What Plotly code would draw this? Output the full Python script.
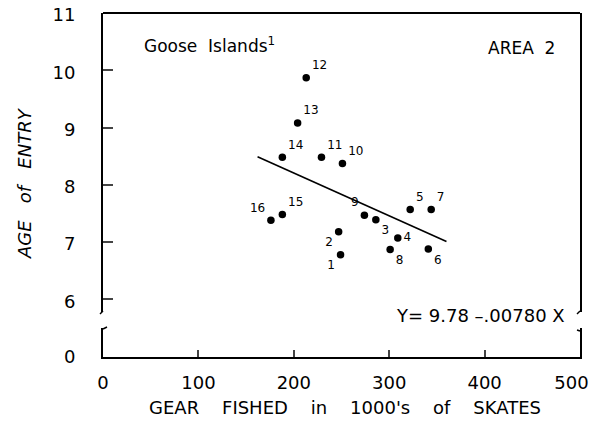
import plotly.graph_objects as go

# data
sample_id = ["1", "2", "3", "4", "5", "6", "7", "8", "9", "10", "11", "12", "13", "14", "15", "16"]
gear_fished = [249, 247, 286, 309, 322, 341, 344, 301, 274, 251, 229, 213, 204, 188, 188, 176]
age_entry = [6.78, 7.18, 7.39, 7.07, 7.57, 6.88, 7.57, 6.87, 7.47, 8.37, 8.48, 9.87, 9.08, 8.48, 7.48, 7.38]
label_pos = ["bottom left", "bottom left", "bottom right", "middle right", "top right",
             "bottom right", "top right", "bottom right", "top left", "top right",
             "top right", "top right", "top right", "top right", "top right", "top left"]

# regression line end points (Y = 9.78 - .00780 X)
fit_x = [162, 360]
fit_y = [8.49, 7.01]

x_ticks = [0, 100, 200, 300, 400, 500]
x_tick_labels = ["0", "100", "200", "300", "400", "500"]
y_ticks_upper = [6, 7, 8, 9, 10, 11]
y_ticks_lower = [0]

FONT = "DejaVu Sans"
SP = "\u00a0"

# last x label is padded so it is not clipped at the right edge of the page
x_tick_text = x_tick_labels[:-1] + [x_tick_labels[-1] + SP * 3]

fig = go.Figure()

fig.add_trace(go.Scatter(
    x=fit_x, y=fit_y, mode="lines",
    line=dict(color="black", width=1.6),
    xaxis="x", yaxis="y", hoverinfo="skip",
))

fig.add_trace(go.Scatter(
    x=gear_fished, y=age_entry, mode="markers+text",
    text=sample_id, textposition=label_pos,
    textfont=dict(family=FONT, size=12, color="black"),
    marker=dict(color="black", size=7.5),
    xaxis="x", yaxis="y",
))

# empty trace so the lower (broken) axis segment gets drawn
fig.add_trace(go.Scatter(x=[None], y=[None], mode="markers", xaxis="x", yaxis="y2",
                         hoverinfo="skip"))


def brk(x0, y0, x1, y1):
    # small hook at the ends of the broken axis lines (pixel -> paper)
    return dict(type="line", xref="paper", yref="paper",
                x0=(x0 - 103) / 477, y0=(357 - y0) / 344,
                x1=(x1 - 103) / 477, y1=(357 - y1) / 344,
                line=dict(color="black", width=1.5))


# the page body has an 8px margin; figure sized so the page does not scroll
fig.update_layout(
    width=593, height=425,
    margin=dict(l=95, r=21, t=5, b=76, autoexpand=False),
    paper_bgcolor="white", plot_bgcolor="white",
    showlegend=False,
    font=dict(family=FONT, color="black"),
    xaxis=dict(
        range=[0, 500], anchor="y2", automargin=False,
        tickvals=x_ticks, ticktext=x_tick_text,
        ticks="inside", ticklen=7, tickwidth=1.5,
        showline=True, linecolor="black", linewidth=2,
        showgrid=False, zeroline=False, ticklabeloverflow="allow",
        tickfont=dict(size=18), ticklabelstandoff=8,
    ),
    yaxis=dict(
        domain=[0.131, 1], range=[5.78, 11], anchor="x", automargin=False,
        tickvals=y_ticks_upper, ticks="inside", ticklen=10, tickwidth=1.5,
        showline=True, linecolor="black", linewidth=2, mirror=True,
        showgrid=False, zeroline=False, ticklabeloverflow="allow",
        tickfont=dict(size=18), ticklabelstandoff=22, ticklabelshift=2,
    ),
    yaxis2=dict(
        domain=[0, 0.084], range=[0, 0.506], anchor="x", automargin=False,
        tickvals=y_ticks_lower, ticks="",
        showline=True, linecolor="black", linewidth=2, mirror=True,
        showgrid=False, zeroline=False, ticklabeloverflow="allow",
        tickfont=dict(size=18), ticklabelstandoff=22,
    ),
    shapes=[
        dict(type="line", xref="paper", yref="paper", x0=0, x1=1, y0=1, y1=1,
             line=dict(color="black", width=2)),
        brk(103, 311, 100, 314),
        brk(103, 329, 107, 327),
        brk(580, 311, 577, 314),
        brk(580, 331, 577, 330),
    ],
    annotations=[
        dict(text="Goose" + SP * 2 + "Islands<sup>1</sup>", xref="paper", yref="paper",
             x=0.082, y=0.907, xanchor="left", yanchor="middle",
             showarrow=False, font=dict(size=17)),
        dict(text="AREA" + SP * 2 + "2", xref="paper", yref="paper",
             x=0.952, y=0.898, xanchor="right", yanchor="middle",
             showarrow=False, font=dict(size=17)),
        dict(text="Y= 9.78 \u2013.00780 X", xref="paper", yref="paper",
             x=0.973, y=0.122, xanchor="right", yanchor="middle",
             showarrow=False, font=dict(size=18)),
        dict(text=(SP * 4).join(["GEAR", "FISHED", "in", "1000's", "of", "SKATES"]),
             xref="paper", yref="paper", x=0.507, y=-0.148,
             xanchor="center", yanchor="middle", showarrow=False, font=dict(size=18)),
        dict(text="<i>" + (SP * 3).join(["AGE", "of", "ENTRY"]) + "</i>",
             xref="paper", yref="paper", x=-0.1635, y=0.506, textangle=-90,
             xanchor="center", yanchor="middle", showarrow=False, font=dict(size=18)),
    ],
)

fig.write_html("out.html")
